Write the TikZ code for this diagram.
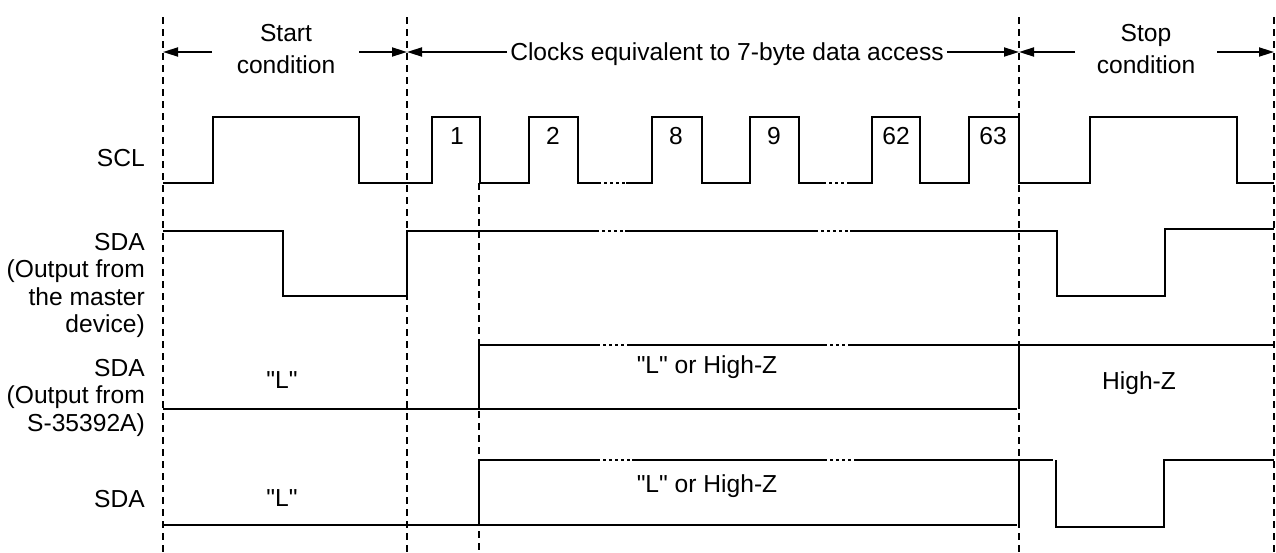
\documentclass[tikz,border=0pt]{standalone}
\usepackage{fontspec}
\setmainfont{Liberation Sans}[Ligatures=TeXOff]
\usetikzlibrary{arrows.meta}

\begin{document}
\begin{tikzpicture}[
  x=1pt, y=-1pt,
  lbl/.style = {inner sep=0pt, font=\fontsize{24.6}{27.5}\selectfont},
  sname/.style = {lbl, align=right, anchor=east},
  cond/.style = {inner sep=0pt, align=center, font=\fontsize{24.6}{31.6}\selectfont},
  pulse/.style = {lbl, anchor=base},
  sig/.style = {line width=2.9pt},
  brk/.style = {sig, dash pattern=on 3pt off 3pt, dash phase=3pt},
  guide/.style = {line width=1.4pt, dash pattern=on 7pt off 5pt},
  dim/.style = {line width=1.8pt, -{Triangle[length=15pt,width=9pt]}}
]
  \useasboundingbox (0,0) rectangle (1276,552);

  % phase markers
  \coordinate (m0) at (163,52);
  \coordinate (m1) at (407,52);
  \coordinate (m2) at (1019,52);
  \coordinate (m3) at (1274,52);

  \draw[guide] (163,17) -- (163,552);
  \draw[guide] (407,17) -- (407,552);
  \draw[guide] (479,183) -- (479,552);
  \draw[guide] (1019,17) -- (1019,552);
  \draw[guide] (1274,17) -- (1274,552);

  % phase labels
  \node[cond] (startc) at (286,49) {Start\\condition};
  \node[cond] (stopc)  at (1146,49) {Stop\\condition};
  \node[lbl, anchor=base, inner sep=3pt] (clk) at (727,60) {Clocks equivalent to 7-byte data access};

  \draw[dim] (212,52) -- (m0);
  \draw[dim] (359,52) -- (m1);
  \draw[dim] (clk.west |- m1) -- (m1);
  \draw[dim] (clk.east |- m2) -- (m2);
  \draw[dim] (1075,52) -- (m2);
  \draw[dim] (1217,52) -- (m3);

  % signal names
  \node[sname] (scl)  at (145,158) {SCL};
  \node[sname] (sdam) at (145,285.5) {SDA\\(Output from\\the master\\device)};
  \node[sname] (sdas) at (145,397.5) {SDA\\(Output from\\S-35392A)};
  \node[sname] (sda)  at (145,499.5) {SDA};

  % SCL
  \draw[sig] (163,183) -- (213,183) -- (213,117) -- (359,117) -- (359,183)
    -- (432,183) -- (432,117) -- (480,117) -- (480,183)
    -- (529,183) -- (529,117) -- (578,117) -- (578,183) -- (601,183);
  \draw[brk] (601,183) -- (626,183);
  \draw[sig] (626,183) -- (652,183) -- (652,117) -- (702,117) -- (702,183)
    -- (750,183) -- (750,117) -- (799,117) -- (799,183) -- (826,183);
  \draw[brk] (826,183) -- (849,183);
  \draw[sig] (849,183) -- (872,183) -- (872,117) -- (920,117) -- (920,183)
    -- (969,183) -- (969,117) -- (1019,117) -- (1019,183)
    -- (1090,183) -- (1090,117) -- (1237,117) -- (1237,183) -- (1274,183);
  \foreach \x/\n in {457/1, 553/2, 676/8, 774/9, 896/62, 993/63}
    \node[pulse] (p\n) at (\x,144) {\n};

  % SDA from master
  \draw[sig] (163,231) -- (283,231) -- (283,296) -- (407,296) -- (407,231) -- (599,231);
  \draw[brk] (599,231) -- (625,231);
  \draw[sig] (625,231) -- (818,231);
  \draw[brk] (818,231) -- (850,231);
  \draw[sig] (850,231) -- (1057,231) -- (1057,296) -- (1165,296) -- (1165,229) -- (1274,229);

  % SDA from S-35392A
  \draw[sig] (163,409) -- (1017,409);
  \draw[sig] (1019,409) -- (1019,345);
  \draw[sig] (479,409) -- (479,345) -- (600,345);
  \draw[brk] (600,345) -- (630,345);
  \draw[sig] (630,345) -- (827,345);
  \draw[brk] (827,345) -- (850,345);
  \draw[sig] (850,345) -- (1274,345);
  \node[lbl, anchor=base] (lo1) at (282,388) {"L"};
  \node[lbl, anchor=base] (hz1) at (707,373) {"L" or High-Z};
  \node[lbl, anchor=base] (hz2) at (1139,389) {High-Z};

  % SDA
  \draw[sig] (163,525) -- (1017,525);
  \draw[sig] (1019,525) -- (1019,460);
  \draw[sig] (479,525) -- (479,460) -- (600,460);
  \draw[brk] (600,460) -- (632,460);
  \draw[sig] (632,460) -- (827,460);
  \draw[brk] (827,460) -- (856,460);
  \draw[sig] (856,460) -- (1053,460);
  \draw[sig] (1056,460) -- (1056,527) -- (1164,527) -- (1164,460) -- (1274,460);
  \node[lbl, anchor=base] (lo2) at (282,506) {"L"};
  \node[lbl, anchor=base] (hz3) at (707,492) {"L" or High-Z};
\end{tikzpicture}
\end{document}
